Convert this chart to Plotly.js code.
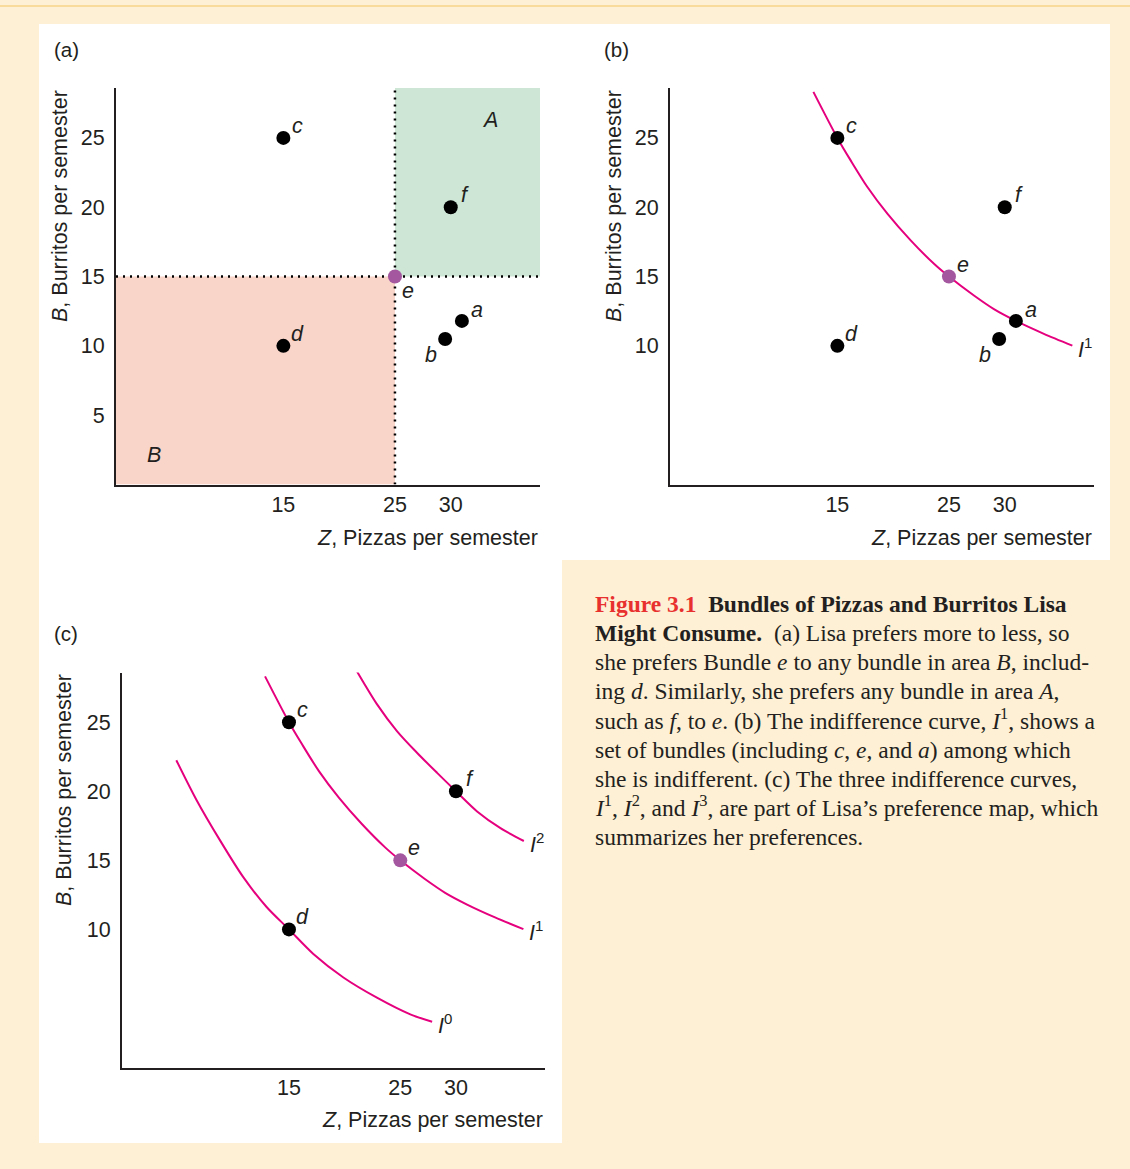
<!DOCTYPE html>
<html><head><meta charset="utf-8">
<script src="https://cdn.plot.ly/plotly-3.0.1.min.js"></script>
<style>html,body{margin:0;padding:0;background:#fef0d4;}</style>
</head><body>
<div id="chart" style="width:1130px;height:1169px;"></div>
<script>
// ---------- data ----------
const pointLabels = ['a', 'b', 'c', 'd', 'e', 'f'];
const pointZ = [31, 29.5, 15, 15, 25, 30];      // pizzas per semester
const pointB = [11.8, 10.5, 25, 10, 15, 20];    // burritos per semester
const panelCLabels = ['c', 'd', 'e', 'f'];

const curveI0Z = [4.88, 6.68, 8.78, 10.88, 12.99, 15, 17.19, 19.89, 22.9, 25.9, 27.86];
const curveI0B = [22.25, 19.39, 16.48, 13.8, 11.62, 10, 8.22, 6.52, 5.06, 3.85, 3.31];
const curveI1Z = [12.85, 15, 16.19, 17.69, 19.48, 21.57, 23.66, 25, 27.24, 29.03, 31, 33.51, 36.06];
const curveI1B = [28.32, 25, 23.38, 21.46, 19.54, 17.61, 15.92, 15, 13.63, 12.65, 11.8, 10.87, 10.02];
const curveI2Z = [21.1, 22.9, 24.7, 26.5, 28.31, 30, 31.9, 34.0, 36.1];
const curveI2B = [28.69, 26.31, 24.36, 22.79, 21.33, 20, 18.54, 17.33, 16.4];

const xTickVals = [15, 25, 30];
const yTickValsA = [5, 10, 15, 20, 25];
const yTickValsBC = [10, 15, 20, 25];
const zMax = 38, bMax = 28.6;

const regionLabels = ['A', 'B'];
const regionZ = [33.5, 3.4];
const regionB = [26.3, 2.1];

const captionLines = [
  '<span style="color:#e8312f"><b>Figure 3.1</b></span>  <b>Bundles of Pizzas and Burritos Lisa</b>',
  '<b>Might Consume.</b>  (a) Lisa prefers more to less, so',
  'she prefers Bundle <i>e</i> to any bundle in area <i>B</i>, includ-',
  'ing <i>d</i>. Similarly, she prefers any bundle in area <i>A</i>,',
  'such as <i>f</i>, to <i>e</i>. (b) The indifference curve, <i>I</i><sup>1</sup>, shows a',
  'set of bundles (including <i>c</i>, <i>e</i>, and <i>a</i>) among which',
  'she is indifferent. (c) The three indifference curves,',
  '<i>I</i><sup>1</sup>, <i>I</i><sup>2</sup>, and <i>I</i><sup>3</sup>, are part of Lisa’s preference map, which',
  'summarizes her preferences.'
];

// ---------- styles ----------
const W = 1130, H = 1169;
const PX = x => x / W;
const PY = y => 1 - y / H;
const INK = '#231f20';
const SANS = 'Liberation Sans, Arial, Helvetica, sans-serif';
const SERIF = 'Liberation Serif, Times New Roman, serif';
const CURVE = '#e5007d';
const PURPLE = '#a4579f';
const FS = 21.5;

function idx(l) { return pointLabels.indexOf(l); }
const eZ = pointZ[idx('e')], eB = pointB[idx('e')];

function axisX(d0, d1, anchor) {
  return {
    domain: [PX(d0), PX(d1)], range: [0, zMax], anchor: anchor,
    showline: true, linecolor: INK, linewidth: 2, showgrid: false, zeroline: false,
    tickvals: xTickVals, ticks: '', ticklabelstandoff: 0,
    tickfont: {family: SANS, size: FS, color: INK}, fixedrange: true
  };
}
function axisY(top, bottom, anchor, ticks) {
  return {
    domain: [PY(bottom), PY(top)], range: [0, bMax], anchor: anchor,
    showline: true, linecolor: INK, linewidth: 2, showgrid: false, zeroline: false,
    tickvals: ticks, ticks: '', ticklabelstandoff: 5,
    tickfont: {family: SANS, size: FS, color: INK}, fixedrange: true
  };
}

const traces = [];
function curve(z, b, xa, ya) {
  traces.push({x: z, y: b, xaxis: xa, yaxis: ya, mode: 'lines', type: 'scatter',
    line: {color: CURVE, width: 2, shape: 'spline', smoothing: 0.8}, hoverinfo: 'skip'});
}
function points(labels, xa, ya) {
  const blk = labels.filter(l => l !== 'e');
  traces.push({x: blk.map(l => pointZ[idx(l)]), y: blk.map(l => pointB[idx(l)]),
    xaxis: xa, yaxis: ya, mode: 'markers', type: 'scatter',
    marker: {color: '#000', size: 14, line: {width: 0}}, hoverinfo: 'skip'});
  if (labels.includes('e')) {
    traces.push({x: [eZ], y: [eB], xaxis: xa, yaxis: ya, mode: 'markers', type: 'scatter',
      marker: {color: PURPLE, size: 14, line: {width: 0}}, hoverinfo: 'skip'});
  }
}

curve(curveI1Z, curveI1B, 'x2', 'y2');
curve(curveI0Z, curveI0B, 'x3', 'y3');
curve(curveI1Z, curveI1B, 'x3', 'y3');
curve(curveI2Z, curveI2B, 'x3', 'y3');
points(pointLabels, 'x', 'y');
points(pointLabels, 'x2', 'y2');
points(panelCLabels, 'x3', 'y3');

// ---------- annotations ----------
const annotations = [];
function paperText(text, x, y, xanchor, yanchor, font, extra) {
  annotations.push(Object.assign({text: text, x: PX(x), y: PY(y), xref: 'paper', yref: 'paper',
    xanchor: xanchor, yanchor: yanchor, showarrow: false, font: font}, extra || {}));
}
const labFont = {family: SANS, size: FS, color: INK};

const offsUR = [14, -12];
const offsets = {
  x:  {a: [15, -11], b: [-14, 16], c: offsUR, d: offsUR, e: [13, 14], f: offsUR},
  x2: {a: [15, -11], b: [-14, 16], c: offsUR, d: offsUR, e: offsUR, f: offsUR},
  x3: {c: offsUR, d: offsUR, e: offsUR, f: offsUR}
};
function pointText(labels, xa, ya) {
  labels.forEach(l => {
    const o = offsets[xa][l];
    annotations.push({text: '<i>' + l + '</i>', x: pointZ[idx(l)], y: pointB[idx(l)],
      xref: xa, yref: ya, xanchor: 'center', yanchor: 'middle', xshift: o[0], yshift: -o[1],
      showarrow: false, font: labFont});
  });
}
pointText(pointLabels, 'x', 'y');
pointText(pointLabels, 'x2', 'y2');
pointText(panelCLabels, 'x3', 'y3');

regionLabels.forEach((t, i) => annotations.push({text: '<i>' + t + '</i>', x: regionZ[i], y: regionB[i],
  xref: 'x', yref: 'y', showarrow: false, font: labFont, xanchor: 'center', yanchor: 'middle'}));

function curveLabel(name, z, b, xa, ya) {
  annotations.push({text: '<i>I</i><sup>' + name + '</sup>', x: z[z.length - 1], y: b[b.length - 1],
    xref: xa, yref: ya, xanchor: 'left', yanchor: 'middle', xshift: 4, yshift: -2,
    showarrow: false, font: labFont});
}
curveLabel('1', curveI1Z, curveI1B, 'x2', 'y2');
curveLabel('0', curveI0Z, curveI0B, 'x3', 'y3');
curveLabel('1', curveI1Z, curveI1B, 'x3', 'y3');
curveLabel('2', curveI2Z, curveI2B, 'x3', 'y3');

paperText('(a)', 66, 50, 'center', 'middle', {family: SANS, size: 20.5, color: INK});
paperText('(b)', 616, 50, 'center', 'middle', {family: SANS, size: 20.5, color: INK});
paperText('(c)', 66, 633, 'center', 'middle', {family: SANS, size: 20.5, color: INK});

const xTitle = '<i>Z</i>, Pizzas per semester';
const yTitle = '<i>B</i>, Burritos per semester';
paperText(xTitle, 540, 538, 'right', 'middle', labFont);
paperText(xTitle, 1094, 538, 'right', 'middle', labFont);
paperText(xTitle, 545, 1120, 'right', 'middle', labFont);
paperText(yTitle, 60, 88, 'center', 'top', labFont, {textangle: -90});
paperText(yTitle, 614, 88, 'center', 'top', labFont, {textangle: -90});
paperText(yTitle, 64, 672, 'center', 'top', labFont, {textangle: -90});

// caption, one annotation per line (bottom-anchored so superscripts don't shift lines)
captionLines.forEach((t, i) => {
  paperText(t, 593, 619 + i * 29.15, 'left', 'bottom', {family: SERIF, size: 23.5, color: INK}, {align: 'left'});
});

// ---------- shapes ----------
const dotLine = {color: '#000', width: 2.5, dash: '2px,5px'};
const shapes = [
  {type: 'line', xref: 'paper', yref: 'paper', x0: 0, x1: 1, y0: PY(6), y1: PY(6), line: {color: '#f7d68a', width: 1.5}, layer: 'below'},
  {type: 'rect', xref: 'paper', yref: 'paper', x0: PX(39), x1: PX(1110), y0: PY(560), y1: PY(24), fillcolor: '#ffffff', line: {width: 0}, layer: 'below'},
  {type: 'rect', xref: 'paper', yref: 'paper', x0: PX(39), x1: PX(562), y0: PY(1143), y1: PY(559), fillcolor: '#ffffff', line: {width: 0}, layer: 'below'},
  {type: 'rect', xref: 'x', yref: 'y', x0: 0, x1: eZ, y0: 0, y1: eB, fillcolor: '#f9d4c9', line: {width: 0}, layer: 'below'},
  {type: 'rect', xref: 'x', yref: 'y', x0: eZ, x1: zMax, y0: eB, y1: bMax, fillcolor: '#cde6d6', line: {width: 0}, layer: 'below'},
  {type: 'line', xref: 'x', yref: 'y', x0: 0, x1: zMax, y0: eB, y1: eB, line: dotLine, layer: 'below'},
  {type: 'line', xref: 'x', yref: 'y', x0: eZ, x1: eZ, y0: 0, y1: bMax, line: dotLine, layer: 'below'}
];

const layout = {
  width: W, height: H, margin: {l: 0, r: 0, t: 0, b: 0},
  paper_bgcolor: '#fef0d4', plot_bgcolor: 'rgba(0,0,0,0)', showlegend: false,
  xaxis: axisX(116, 540, 'y'), yaxis: axisY(88, 484.5, 'x', yTickValsA),
  xaxis2: axisX(670, 1094, 'y2'), yaxis2: axisY(88, 484.5, 'x2', yTickValsBC),
  xaxis3: axisX(122, 545, 'y3'), yaxis3: axisY(672.5, 1067.5, 'x3', yTickValsBC),
  shapes: shapes, annotations: annotations
};
Plotly.newPlot('chart', traces, layout, {staticPlot: true, displayModeBar: false});
</script>
</body></html>
